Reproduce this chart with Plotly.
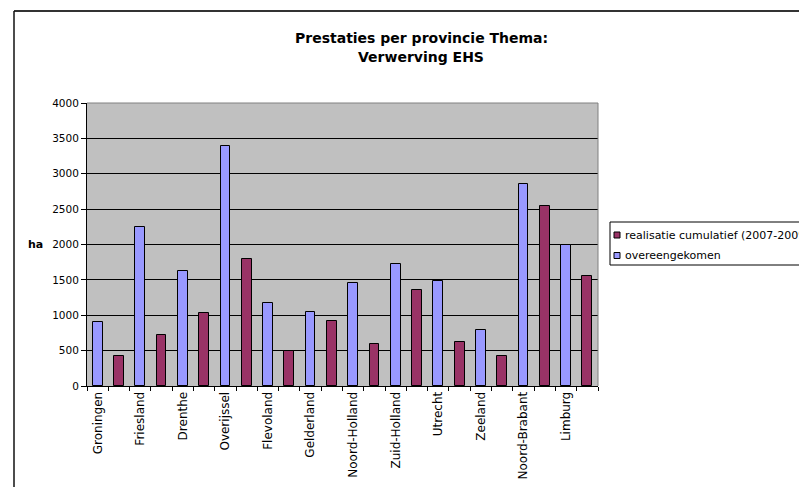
import plotly.graph_objects as go

provinces = ["Groningen", "Friesland", "Drenthe", "Overijssel", "Flevoland", "Gelderland",
             "Noord-Holland", "Zuid-Holland", "Utrecht", "Zeeland", "Noord-Brabant", "Limburg"]
overeengekomen = [910, 2250, 1630, 3390, 1170, 1050, 1460, 1730, 1480, 790, 2860, 2000]
realisatie = [420, 725, 1025, 1800, 490, 920, 600, 1350, 620, 430, 2540, 1550]
y_ticks = [0, 500, 1000, 1500, 2000, 2500, 3000, 3500, 4000]
series_names = ["realisatie cumulatief (2007-2009)", "overeengekomen"]
series_colors = ["#993366", "#9999FF"]

# 24 category slots: agreed value then realised value for each province
x_over = [2 * i for i in range(len(provinces))]
x_real = [2 * i + 1 for i in range(len(provinces))]

# page body has an 8px margin: work in reference pixel coords minus 8
OFF = 8
W, H = 807 - OFF, 487 - OFF
L, R, T, B = 87 - OFF, W - (598 - OFF), 103 - OFF, H - (386 - OFF)
pw, ph = W - L - R, H - T - B

def px(x):
    return (x - OFF - L) / pw

def py(y):
    return (H - B - (y - OFF)) / ph

font = "DejaVu Sans, Arial, sans-serif"

fig = go.Figure()
fig.add_trace(go.Bar(
    x=x_real, y=realisatie, name=series_names[0],
    marker=dict(color=series_colors[0], line=dict(color="#000000", width=1)), width=0.46))
fig.add_trace(go.Bar(
    x=x_over, y=overeengekomen, name=series_names[1],
    marker=dict(color=series_colors[1], line=dict(color="#000000", width=1)), width=0.46))

fig.update_layout(
    width=W, height=H,
    margin=dict(l=L, r=R, t=T, b=B, autoexpand=False),
    paper_bgcolor="white", plot_bgcolor="#C0C0C0",
    barmode="overlay", bargap=0,
    font=dict(family=font, size=11, color="black"),
    showlegend=False,
    xaxis=dict(range=[-0.5, 23.5], tickmode="array", tickvals=x_over, ticktext=provinces,
               tickangle=-90, ticks="", showgrid=False, zeroline=False,
               showline=True, linecolor="black", linewidth=1,
               tickfont=dict(family=font, size=12),
               minor=dict(tick0=-0.5, dtick=1, ticks="outside", ticklen=4,
                          tickcolor="black", showgrid=False)),
    yaxis=dict(range=[0, 4000], tickmode="array", tickvals=y_ticks,
               ticks="outside", ticklen=5, tickcolor="black",
               showgrid=True, gridcolor="black", gridwidth=1,
               zeroline=False, showline=True, linecolor="black", linewidth=1,
               tickfont=dict(family=font, size=10.5)),
)

# plot area right/top gray border
fig.add_shape(type="line", xref="paper", yref="paper", x0=0, x1=1, y0=1, y1=1,
              line=dict(color="#808080", width=1))
fig.add_shape(type="line", xref="paper", yref="paper", x0=1, x1=1, y0=0, y1=1,
              line=dict(color="#808080", width=1))
# outer chart border (top and left visible)
fig.add_shape(type="line", xref="paper", yref="paper", x0=px(14), x1=px(820), y0=py(11), y1=py(11),
              line=dict(color="#333333", width=2))
fig.add_shape(type="line", xref="paper", yref="paper", x0=px(14), x1=px(14), y0=py(11), y1=py(500),
              line=dict(color="#111111", width=1.5))

# titles
fig.add_annotation(text="<b>Prestaties per provincie Thema:</b>", xref="paper", yref="paper",
                   x=px(421), y=py(38), xanchor="center", yanchor="middle", showarrow=False,
                   font=dict(family=font, size=14))
fig.add_annotation(text="<b>Verwerving EHS</b>", xref="paper", yref="paper",
                   x=px(421), y=py(57), xanchor="center", yanchor="middle", showarrow=False,
                   font=dict(family=font, size=14))
fig.add_annotation(text="<b>ha</b>", xref="paper", yref="paper",
                   x=px(45), y=py(244), xanchor="right", yanchor="middle", showarrow=False,
                   font=dict(family=font, size=11))

# legend (drawn manually to match the compact Excel legend)
fig.add_shape(type="rect", xref="paper", yref="paper", x0=px(610), x1=px(830), y0=py(222), y1=py(265),
              line=dict(color="black", width=1), fillcolor="white")
for i, (name, col) in enumerate(zip(series_names, series_colors)):
    cy = 235 + 20.5 * i
    fig.add_shape(type="rect", xref="paper", yref="paper",
                  x0=px(614), x1=px(620), y0=py(cy - 3), y1=py(cy + 3),
                  line=dict(color="black", width=1), fillcolor=col)
    fig.add_annotation(text=name, xref="paper", yref="paper", x=px(623), y=py(cy),
                       xanchor="left", yanchor="middle", showarrow=False,
                       font=dict(family=font, size=11))

fig.write_html("out.html")
